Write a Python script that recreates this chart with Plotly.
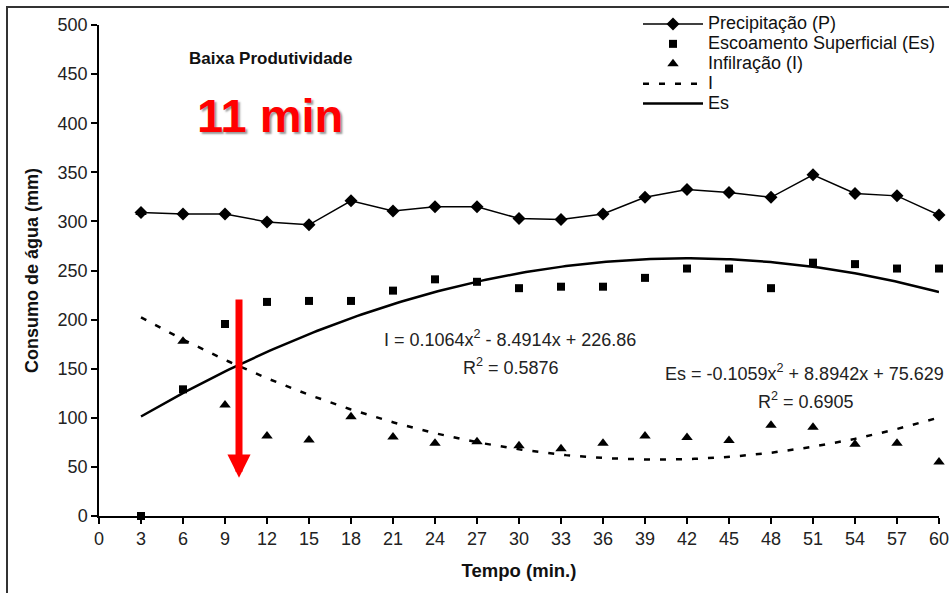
import numpy as np
import plotly.graph_objects as go

tempo = [3, 6, 9, 12, 15, 18, 21, 24, 27, 30, 33, 36, 39, 42, 45, 48, 51, 54, 57, 60]
precipitacao = [309, 307.5, 307.5, 299.5, 296.5, 321, 310.5, 315, 315, 303, 302, 307.5,
                324.5, 332.5, 329.5, 324.5, 347.5, 328.5, 326, 306.5]
escoamento = [0, 129, 195.5, 218, 219, 219, 229.5, 241, 238.5, 232, 233.5, 233.5,
              242.5, 252, 252, 232, 258, 256.5, 252, 252]
infiltracao = [309, 178, 113, 81.5, 77.5, 101, 80.5, 74, 75.5, 71.5, 68.5, 74,
               81.5, 80, 77, 92.5, 90.5, 73, 74, 55]

# trend-line coefficients as printed on the chart (a*x^2 + b*x + c)
coef_I = [0.1064, -8.4914, 226.86]
coef_Es = [-0.1059, 8.8942, 75.629]

x_fit = np.linspace(min(tempo), max(tempo), 200)
I_fit = np.polyval(coef_I, x_fit)
Es_fit = np.polyval(coef_Es, x_fit)

FONT = "Arial, Liberation Sans, sans-serif"

# page geometry (body margin is removed by the post script)
PAGE_W, PAGE_H = 949, 593
PL, PR, PT, PB = 99, 939, 25, 516      # plot area edges in page pixels
pw, ph = PR - PL, PB - PT


def px(xp):
    return (xp - PL) / pw


def py(yp):
    return (PB - yp) / ph


def leg(name):
    return "<span style='font-size:18px'>" + name + "</span>"


fig = go.Figure()
fig.add_trace(go.Scatter(x=tempo, y=precipitacao, name=leg("Precipitação (P)"), mode="lines+markers",
                         line=dict(color="black", width=1.5),
                         marker=dict(symbol="diamond", size=10, color="black"), cliponaxis=False))
fig.add_trace(go.Scatter(x=tempo, y=escoamento, name=leg("Escoamento Superficial (Es)"), mode="markers",
                         marker=dict(symbol="square", size=8, color="black"), cliponaxis=False))
fig.add_trace(go.Scatter(x=tempo, y=infiltracao, name=leg("Infilração (I)"), mode="markers",
                         marker=dict(symbol="triangle-up", size=10, color="black"), cliponaxis=False))
fig.add_trace(go.Scatter(x=x_fit, y=I_fit, name=leg("I"), mode="lines",
                         line=dict(color="black", width=2.5, dash="6px,10px")))
fig.add_trace(go.Scatter(x=x_fit, y=Es_fit, name=leg("Es"), mode="lines",
                         line=dict(color="black", width=2.5)))

fig.update_layout(
    width=PAGE_W, height=PAGE_H,
    margin=dict(l=PL, r=PAGE_W - PR, t=PT, b=PAGE_H - PB, pad=0, autoexpand=False),
    paper_bgcolor="white", plot_bgcolor="white",
    font=dict(family=FONT, color="#111", size=16),
    showlegend=True,
    legend=dict(x=px(638), y=py(9), xanchor="left", yanchor="top", bgcolor="rgba(255,255,255,0)",
                font=dict(size=13, family=FONT, color="#111"), itemwidth=60,
                tracegroupgap=0),
    xaxis=dict(range=[0, 60], dtick=3, tick0=0, showgrid=False, zeroline=False,
               showline=True, linecolor="black", linewidth=1.5, automargin=False,
               ticks="outside", ticklen=6, tickcolor="black", tickwidth=1.5,
               ticklabeloverflow="allow",
               tickfont=dict(size=18, family=FONT, color="#222"),
               title=dict(text="<b>Tempo (min.)</b>", font=dict(size=18.5, family=FONT, color="#111"),
                          standoff=16)),
    yaxis=dict(range=[0, 500], dtick=50, showgrid=False, zeroline=False,
               showline=True, linecolor="black", linewidth=1.5, automargin=False,
               ticks="outside", ticklen=6, tickcolor="black", tickwidth=1.5,
               tickfont=dict(size=18, family=FONT, color="#222"),
               title=dict(text="<b>Consumo de água (mm)</b>", font=dict(size=18, family=FONT, color="#111"),
                          standoff=14)),
)

fig.add_annotation(x=10, y=39, ax=10, ay=222, xref="x", yref="y", axref="x", ayref="y",
                   text="", showarrow=True, arrowhead=2, arrowsize=0.66, arrowwidth=7,
                   arrowcolor="red")


def txt(text, x, y, size, color="#222", **kw):
    fig.add_annotation(text=text, x=px(x), y=py(y), xref="paper", yref="paper",
                       xanchor="center", yanchor="middle", showarrow=False,
                       font=dict(size=size, family=FONT, color=color, **kw))


txt("<b>Baixa Produtividade</b>", 270, 59, 17, "#111")
txt("<b>11 min</b>", 270, 116, 47, "red", shadow="2px 2px 2px #999")
txt("I = 0.1064x<sup>2</sup> - 8.4914x + 226.86", 510, 339, 18)
txt("R<sup>2</sup> = 0.5876", 511, 366, 18)
txt("Es = -0.1059x<sup>2</sup> + 8.8942x + 75.629", 804, 372, 18)
txt("R<sup>2</sup> = 0.6905", 806, 400, 18)

# outer chart border
fig.add_shape(type="rect", xref="paper", yref="paper",
              x0=px(7), y0=py(640), x1=px(970), y1=py(7),
              line=dict(color="#333", width=2), fillcolor="rgba(0,0,0,0)", layer="below")

fig.write_html(
    "out.html",
    config={"displayModeBar": False},
    post_script=("document.documentElement.style.overflow='hidden';"
                 "document.body.style.overflow='hidden';"
                 "document.body.style.margin='0';"),
)
